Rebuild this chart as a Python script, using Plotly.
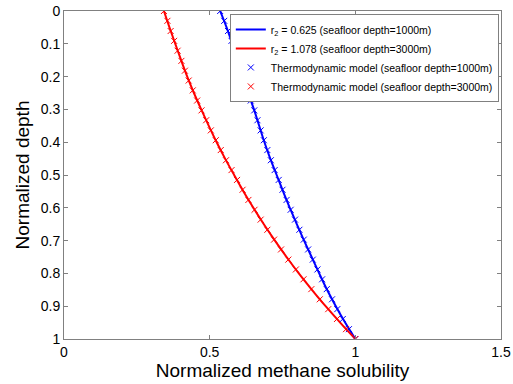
import plotly.graph_objects as go

# Solid model curves
line_depth = [0, 0.05, 0.1, 0.15, 0.2, 0.25, 0.3, 0.35, 0.4, 0.45, 0.5,
              0.55, 0.6, 0.65, 0.7, 0.75, 0.8, 0.85, 0.9, 0.95, 1.0]
blue_line = [0.536, 0.558, 0.578, 0.597, 0.613, 0.632, 0.652, 0.670, 0.688, 0.708, 0.730,
             0.752, 0.775, 0.799, 0.824, 0.850, 0.876, 0.903, 0.933, 0.965, 1.0]
red_line = [0.343, 0.362, 0.382, 0.402, 0.423, 0.446, 0.471, 0.497, 0.524, 0.553, 0.584,
            0.616, 0.650, 0.686, 0.724, 0.764, 0.806, 0.851, 0.898, 0.948, 1.0]

# Thermodynamic model points
marker_depth = [0, 0.03, 0.061, 0.091, 0.121, 0.152, 0.182, 0.212, 0.242, 0.273, 0.303,
                0.333, 0.364, 0.394, 0.424, 0.455, 0.485, 0.515, 0.545, 0.576, 0.606,
                0.636, 0.667, 0.697, 0.727, 0.758, 0.788, 0.818, 0.848, 0.879, 0.909,
                0.939, 0.970, 1.0]
blue_marks = [0.536, 0.550, 0.563, 0.575, 0.587, 0.598, 0.608, 0.617, 0.629, 0.641, 0.653,
              0.664, 0.675, 0.686, 0.698, 0.710, 0.723, 0.737, 0.750, 0.764, 0.778,
              0.793, 0.808, 0.823, 0.838, 0.854, 0.870, 0.886, 0.902, 0.920, 0.938,
              0.957, 0.978, 1.0]
red_marks = [0.343, 0.355, 0.366, 0.378, 0.390, 0.403, 0.415, 0.428, 0.442, 0.457, 0.472,
             0.488, 0.504, 0.521, 0.538, 0.556, 0.575, 0.594, 0.613, 0.633, 0.654,
             0.675, 0.698, 0.721, 0.745, 0.770, 0.796, 0.822, 0.849, 0.878, 0.907,
             0.937, 0.968, 1.0]

x_ticks = [0, 0.5, 1, 1.5]
x_ticklabels = ["0", "0.5", "1", "1.5"]
y_ticks = [0, 0.1, 0.2, 0.3, 0.4, 0.5, 0.6, 0.7, 0.8, 0.9, 1]
y_ticklabels = ["0", "0.1", "0.2", "0.3", "0.4", "0.5", "0.6", "0.7", "0.8", "0.9", "1"]

FONT = "Liberation Sans, Arial, sans-serif"

fig = go.Figure()
fig.add_trace(go.Scatter(x=blue_line, y=line_depth, mode="lines", line=dict(color="#0000FF", width=2, shape="spline"),
                         name="r<sub>2</sub> = 0.625 (seafloor depth=1000m)"))
fig.add_trace(go.Scatter(x=red_line, y=line_depth, mode="lines", line=dict(color="#FF0000", width=2, shape="spline"),
                         name="r<sub>2</sub> = 1.078 (seafloor depth=3000m)"))
fig.add_trace(go.Scatter(x=blue_marks, y=marker_depth, mode="markers",
                         marker=dict(symbol="x-thin", size=6, line=dict(color="#0000FF", width=1)),
                         name="Thermodynamic model (seafloor depth=1000m)"))
fig.add_trace(go.Scatter(x=red_marks, y=marker_depth, mode="markers",
                         marker=dict(symbol="x-thin", size=6, line=dict(color="#FF0000", width=1)),
                         name="Thermodynamic model (seafloor depth=3000m)"))

axis_common = dict(showline=True, linecolor="#808080", linewidth=1, mirror="allticks",
                   ticks="inside", ticklen=4, tickcolor="#808080", showgrid=False, zeroline=False,
                   automargin=False,
                   tickfont=dict(family=FONT, size=14, color="black"))

fig.update_layout(
    width=513, height=384,
    margin=dict(l=64, r=12, t=11, b=45),
    paper_bgcolor="white", plot_bgcolor="white",
    font=dict(family=FONT, color="black"),
    xaxis=dict(range=[0, 1.5], tickvals=x_ticks, ticktext=x_ticklabels,
               title=dict(text="Normalized methane solubility", font=dict(family=FONT, size=19), standoff=2),
               **axis_common),
    yaxis=dict(range=[1, 0], tickvals=y_ticks, ticktext=y_ticklabels,
               title=dict(text="Normalized depth", font=dict(family=FONT, size=19), standoff=6),
               **axis_common),
    legend=dict(x=0.995, y=0.991, xanchor="right", yanchor="top",
                bgcolor="white", bordercolor="#808080", borderwidth=1,
                font=dict(family=FONT, size=10.5, color="black"), tracegroupgap=0, itemwidth=30),
    showlegend=True,
)

fig.write_html("out.html", config={"displayModeBar": False},
               post_script="document.body.style.margin='0';document.body.style.padding='0';")
